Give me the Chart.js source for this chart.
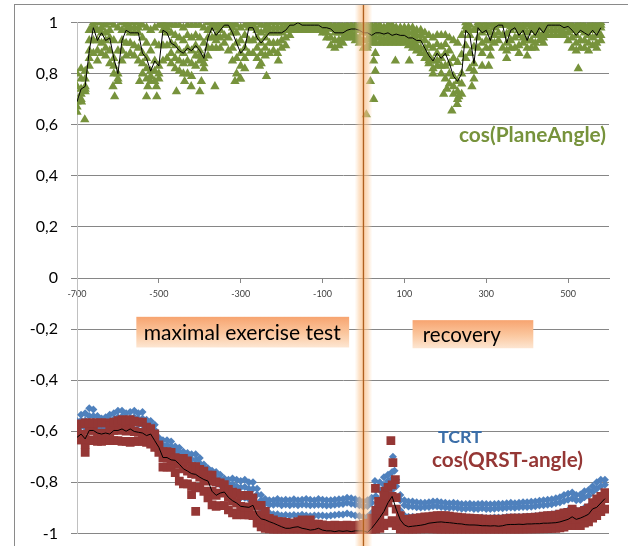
<!DOCTYPE html>
<html><head><meta charset="utf-8">
<script src="https://cdn.jsdelivr.net/npm/chart.js@4.4.1/dist/chart.umd.min.js"></script>
<style>html,body{margin:0;padding:0;background:#fff;overflow:hidden;}#wrap{width:628px;height:546px;overflow:hidden;}canvas{display:block;}</style>
</head><body>
<div id="wrap"><canvas id="c" width="628" height="556"></canvas></div>
<script>
// ---- sampling grid (x in seconds relative to end of exercise) ----
const xStart = -700, xStep = 10;
const xTicks = [-700, -500, -300, -100, 100, 300, 500];
const yTicks = [-1, -0.8, -0.6, -0.4, -0.2, 0, 0.2, 0.4, 0.6, 0.8, 1];

// ---- cos(PlaneAngle): x = -700 .. 580 ----
const planeHigh = [
 0.80,0.82,0.81,0.97,1.0,1.0,1.0,0.99,1.0,0.99,
 0.98,1.0,1.0,1.0,1.0,1.0,0.99,0.98,0.97,0.98,
 0.99,1.0,1.0,0.99,0.99,0.99,0.98,0.99,0.99,0.99,
 0.99,0.98,1.0,1.0,1.0,1.0,1.0,1.0,1.0,0.99,
 0.98,0.99,1.0,1.0,1.0,0.99,0.99,1.0,1.0,1.0,
 1.0,1.0,1.0,1.0,1.0,1.0,1.0,1.0,1.0,1.0,
 1.0,1.0,0.99,0.99,0.99,0.99,0.99,0.99,0.99,0.99,
 0.99,0.99,0.99,0.99,0.99,0.98,0.99,0.99,0.98,0.98,
 0.98,0.98,0.98,0.97,0.97,0.96,0.95,0.94,0.95,0.95,
 0.95,0.94,0.93,0.92,0.95,1.0,0.99,0.97,1.0,1.0,
 1.0,0.99,1.0,1.0,1.0,0.99,1.0,1.0,0.99,1.0,
 0.99,1.0,0.99,1.0,1.0,1.0,1.0,1.0,1.0,1.0,
 1.0,0.99,0.99,1.0,0.99,0.99,1.0,0.99,1.0];
const planeUpper = [
 0.75,0.78,0.78,0.93,0.99,0.97,0.98,0.96,0.97,0.93,
 0.89,0.97,0.99,0.98,0.98,0.98,0.94,0.92,0.89,0.92,
 0.91,0.99,0.98,0.96,0.95,0.94,0.93,0.95,0.94,0.95,
 0.94,0.92,0.97,0.99,0.98,0.99,1.0,0.99,0.98,0.96,
 0.93,0.95,0.99,0.99,0.97,0.96,0.97,0.98,0.98,0.98,
 0.98,0.985,0.995,0.995,1.0,0.995,0.995,0.995,0.995,0.995,
 0.99,0.99,0.985,0.975,0.975,0.975,0.98,0.985,0.985,0.98,
 0.975,0.975,0.97,0.975,0.975,0.97,0.975,0.97,0.97,0.965,
 0.965,0.96,0.96,0.95,0.95,0.93,0.91,0.90,0.915,0.905,
 0.915,0.89,0.86,0.845,0.875,0.985,0.97,0.905,0.99,0.98,
 0.985,0.96,0.99,0.995,0.995,0.955,0.985,0.99,0.97,0.985,
 0.96,0.985,0.97,0.99,0.98,0.995,0.995,0.995,0.995,0.99,
 0.99,0.98,0.97,0.985,0.975,0.97,0.985,0.97,0.99];
const planeMean = [
 0.69,0.74,0.75,0.89,0.98,0.93,0.96,0.93,0.94,0.86,
 0.80,0.93,0.97,0.96,0.96,0.96,0.88,0.86,0.81,0.85,
 0.83,0.97,0.96,0.92,0.91,0.89,0.88,0.90,0.89,0.91,
 0.89,0.86,0.94,0.98,0.95,0.97,0.99,0.99,0.96,0.92,
 0.88,0.90,0.98,0.98,0.94,0.92,0.94,0.96,0.96,0.96,
 0.96,0.97,0.99,0.99,1.0,0.99,0.99,0.99,0.99,0.99,
 0.98,0.98,0.975,0.96,0.96,0.96,0.97,0.975,0.975,0.97,
 0.96,0.96,0.95,0.96,0.96,0.955,0.96,0.95,0.955,0.95,
 0.95,0.94,0.94,0.93,0.93,0.90,0.87,0.85,0.88,0.86,
 0.88,0.84,0.79,0.77,0.80,0.97,0.95,0.84,0.98,0.96,
 0.97,0.93,0.98,0.99,0.99,0.92,0.97,0.98,0.95,0.97,
 0.93,0.97,0.95,0.98,0.96,0.99,0.99,0.99,0.99,0.98,
 0.985,0.97,0.95,0.97,0.96,0.95,0.97,0.95,0.98];
const planeMid = [
 0.67,0.72,0.74,0.86,0.93,0.89,0.92,0.90,0.89,0.83,
 0.78,0.89,0.92,0.92,0.91,0.90,0.84,0.82,0.79,0.81,
 0.80,0.91,0.91,0.88,0.86,0.85,0.84,0.85,0.84,0.87,
 0.87,0.84,0.90,0.94,0.93,0.94,0.95,0.94,0.90,0.86,
 0.83,0.86,0.93,0.93,0.90,0.88,0.90,0.92,0.92,0.92,
 0.93,0.94,0.97,0.98,0.98,0.98,0.98,0.98,0.98,0.98,
 0.97,0.96,0.94,0.93,0.93,0.94,0.95,0.96,0.95,0.94,
 0.93,0.935,0.935,0.94,0.94,0.935,0.94,0.935,0.935,0.935,
 0.935,0.925,0.92,0.91,0.90,0.88,0.85,0.82,0.85,0.83,
 0.83,0.80,0.75,0.73,0.76,0.91,0.88,0.81,0.94,0.92,
 0.93,0.90,0.95,0.96,0.95,0.89,0.93,0.94,0.91,0.94,
 0.90,0.93,0.92,0.95,0.94,0.97,0.97,0.97,0.97,0.96,
 0.96,0.94,0.92,0.93,0.93,0.92,0.94,0.92,0.95];
const planeLow = [
 0.65,0.70,0.73,0.83,0.88,0.85,0.88,0.87,0.84,0.80,
 0.77,0.85,0.87,0.88,0.87,0.85,0.80,0.78,0.77,0.77,
 0.78,0.85,0.86,0.84,0.82,0.81,0.80,0.80,0.79,0.83,
 0.85,0.82,0.87,0.90,0.90,0.90,0.92,0.89,0.85,0.80,
 0.78,0.82,0.88,0.88,0.86,0.84,0.87,0.88,0.89,0.88,
 0.90,0.91,0.95,0.97,0.97,0.97,0.97,0.97,0.97,0.97,
 0.96,0.94,0.91,0.90,0.91,0.92,0.94,0.94,0.93,0.92,
 0.90,0.91,0.92,0.92,0.92,0.92,0.92,0.92,0.92,0.92,
 0.92,0.91,0.90,0.89,0.88,0.86,0.84,0.80,0.83,0.80,
 0.78,0.76,0.72,0.70,0.72,0.86,0.82,0.78,0.90,0.88,
 0.90,0.87,0.92,0.93,0.90,0.86,0.90,0.90,0.88,0.92,
 0.87,0.90,0.90,0.93,0.92,0.95,0.95,0.95,0.95,0.95,
 0.93,0.90,0.89,0.90,0.90,0.89,0.91,0.90,0.93];
const planeOutX = [-689,-681,-612,-608,-547,-530,-527,-506,-505,-457,-437,-421,-400,-396,-363,-314,-302,-254,-237,-208,7,9,17,25,25,29,29,78,112,196,204,216,229,233,265,290,306,525];
const planeOutY = [0.69,0.62,0.75,0.71,0.77,0.71,0.75,0.75,0.71,0.73,0.77,0.75,0.73,0.77,0.75,0.77,0.78,0.83,0.79,0.85,0.64,0.90,0.77,0.85,0.70,0.88,0.81,0.85,0.85,0.72,0.74,0.655,0.68,0.71,0.75,0.83,0.83,0.82];

// ---- TCRT: x = -700 .. 590 ----
const tcrtHigh = [
 -0.56,-0.535,-0.53,-0.51,-0.515,-0.54,-0.55,-0.545,-0.535,-0.53,
 -0.52,-0.52,-0.53,-0.525,-0.52,-0.53,-0.525,-0.555,-0.56,-0.575,
 -0.625,-0.635,-0.635,-0.64,-0.66,-0.665,-0.68,-0.685,-0.69,-0.69,
 -0.705,-0.73,-0.745,-0.755,-0.76,-0.77,-0.785,-0.79,-0.785,-0.79,
 -0.795,-0.79,-0.80,-0.80,-0.825,-0.85,-0.865,-0.87,-0.87,-0.865,
 -0.87,-0.868,-0.87,-0.866,-0.87,-0.868,-0.865,-0.868,-0.87,-0.865,
 -0.868,-0.87,-0.87,-0.868,-0.866,-0.865,-0.86,-0.862,-0.866,-0.87,
 -0.875,-0.87,-0.86,-0.83,-0.80,-0.78,-0.77,-0.76,-0.79,-0.85,
 -0.87,-0.875,-0.875,-0.878,-0.88,-0.88,-0.878,-0.875,-0.875,-0.878,
 -0.88,-0.882,-0.88,-0.882,-0.885,-0.885,-0.884,-0.886,-0.885,-0.884,
 -0.885,-0.886,-0.885,-0.884,-0.884,-0.882,-0.88,-0.882,-0.88,-0.878,
 -0.878,-0.876,-0.875,-0.872,-0.87,-0.868,-0.866,-0.862,-0.858,-0.85,
 -0.845,-0.84,-0.85,-0.848,-0.835,-0.83,-0.815,-0.80,-0.79,-0.79];
const tcrtMid = [
 -0.575,-0.558,-0.558,-0.54,-0.54,-0.56,-0.57,-0.565,-0.558,-0.552,
 -0.545,-0.542,-0.552,-0.548,-0.545,-0.552,-0.55,-0.572,-0.578,-0.595,
 -0.638,-0.655,-0.655,-0.66,-0.675,-0.683,-0.698,-0.703,-0.71,-0.713,
 -0.725,-0.745,-0.76,-0.775,-0.783,-0.79,-0.803,-0.808,-0.808,-0.815,
 -0.82,-0.818,-0.825,-0.825,-0.848,-0.87,-0.883,-0.888,-0.888,-0.885,
 -0.89,-0.887,-0.89,-0.887,-0.89,-0.887,-0.888,-0.89,-0.889,-0.888,
 -0.889,-0.891,-0.89,-0.888,-0.886,-0.885,-0.88,-0.884,-0.887,-0.89,
 -0.895,-0.893,-0.88,-0.855,-0.83,-0.81,-0.795,-0.785,-0.815,-0.87,
 -0.89,-0.895,-0.895,-0.898,-0.899,-0.898,-0.897,-0.894,-0.894,-0.897,
 -0.899,-0.9,-0.899,-0.901,-0.903,-0.903,-0.902,-0.904,-0.904,-0.902,
 -0.904,-0.904,-0.903,-0.902,-0.902,-0.9,-0.899,-0.9,-0.898,-0.897,
 -0.897,-0.896,-0.894,-0.891,-0.89,-0.888,-0.886,-0.882,-0.879,-0.873,
 -0.868,-0.863,-0.87,-0.869,-0.858,-0.853,-0.838,-0.825,-0.815,-0.81];
const tcrtLow = [
 -0.59,-0.58,-0.585,-0.57,-0.565,-0.58,-0.59,-0.585,-0.58,-0.575,
 -0.57,-0.565,-0.575,-0.57,-0.57,-0.575,-0.575,-0.59,-0.595,-0.615,
 -0.65,-0.675,-0.675,-0.68,-0.69,-0.70,-0.715,-0.72,-0.73,-0.735,
 -0.745,-0.76,-0.775,-0.795,-0.805,-0.81,-0.82,-0.825,-0.83,-0.84,
 -0.86,-0.86,-0.865,-0.865,-0.885,-0.905,-0.915,-0.92,-0.925,-0.925,
 -0.93,-0.928,-0.93,-0.928,-0.93,-0.927,-0.93,-0.932,-0.93,-0.93,
 -0.93,-0.932,-0.93,-0.928,-0.926,-0.926,-0.922,-0.926,-0.93,-0.932,
 -0.935,-0.935,-0.92,-0.90,-0.88,-0.86,-0.84,-0.83,-0.86,-0.91,
 -0.93,-0.935,-0.935,-0.936,-0.936,-0.935,-0.934,-0.932,-0.932,-0.934,
 -0.936,-0.936,-0.937,-0.938,-0.938,-0.938,-0.938,-0.94,-0.94,-0.938,
 -0.94,-0.94,-0.938,-0.938,-0.938,-0.936,-0.936,-0.936,-0.935,-0.935,
 -0.934,-0.934,-0.932,-0.93,-0.93,-0.928,-0.925,-0.922,-0.92,-0.915,
 -0.91,-0.905,-0.91,-0.91,-0.90,-0.895,-0.88,-0.87,-0.86,-0.85];
const tcrtOutX = [28, 72, 76];
const tcrtOutY = [-0.795, -0.70, -0.755];

// ---- cos(QRST-angle): x = -700 .. 590 ----
const qrstHigh = [
 -0.587,-0.571,-0.567,-0.567,-0.567,-0.567,-0.567,-0.567,-0.578,-0.564,
 -0.558,-0.555,-0.56,-0.555,-0.56,-0.564,-0.564,-0.584,-0.59,-0.61,
 -0.653,-0.68,-0.68,-0.683,-0.703,-0.706,-0.706,-0.716,-0.739,-0.739,
 -0.749,-0.756,-0.772,-0.772,-0.798,-0.802,-0.809,-0.828,-0.838,-0.842,
 -0.851,-0.851,-0.851,-0.861,-0.89,-0.89,-0.914,-0.941,-0.947,-0.954,
 -0.954,-0.957,-0.96,-0.96,-0.954,-0.947,-0.957,-0.947,-0.964,-0.964,
 -0.967,-0.97,-0.97,-0.968,-0.97,-0.97,-0.968,-0.97,-0.97,-0.968,
 -0.965,-0.96,-0.94,-0.91,-0.88,-0.85,-0.82,-0.81,-0.86,-0.93,
 -0.945,-0.945,-0.942,-0.94,-0.938,-0.935,-0.935,-0.932,-0.93,-0.93,
 -0.93,-0.932,-0.935,-0.936,-0.938,-0.94,-0.94,-0.942,-0.942,-0.944,
 -0.944,-0.945,-0.944,-0.946,-0.944,-0.942,-0.94,-0.94,-0.94,-0.94,
 -0.938,-0.938,-0.936,-0.935,-0.932,-0.93,-0.93,-0.928,-0.925,-0.92,
 -0.918,-0.905,-0.915,-0.92,-0.91,-0.90,-0.88,-0.865,-0.855,-0.84];
const qrstMean = [
 -0.624,-0.611,-0.63,-0.597,-0.597,-0.607,-0.611,-0.607,-0.611,-0.597,
 -0.597,-0.591,-0.60,-0.591,-0.601,-0.604,-0.607,-0.617,-0.611,-0.637,
 -0.663,-0.703,-0.703,-0.712,-0.714,-0.729,-0.747,-0.756,-0.766,-0.769,
 -0.78,-0.789,-0.795,-0.835,-0.851,-0.842,-0.838,-0.859,-0.872,-0.881,
 -0.894,-0.896,-0.898,-0.89,-0.927,-0.943,-0.947,-0.954,-0.96,-0.967,
 -0.974,-0.98,-0.98,-0.976,-0.974,-0.98,-0.983,-0.987,-0.985,-0.98,
 -0.987,-0.99,-0.99,-0.993,-0.99,-0.992,-0.99,-0.993,-0.99,-0.99,
 -0.99,-0.996,-0.98,-0.96,-0.938,-0.914,-0.88,-0.855,-0.905,-0.947,
 -0.967,-0.974,-0.972,-0.97,-0.968,-0.965,-0.96,-0.958,-0.956,-0.955,
 -0.957,-0.958,-0.96,-0.962,-0.963,-0.966,-0.967,-0.967,-0.968,-0.97,
 -0.97,-0.971,-0.97,-0.972,-0.97,-0.966,-0.965,-0.965,-0.964,-0.965,
 -0.963,-0.963,-0.962,-0.962,-0.96,-0.96,-0.959,-0.958,-0.955,-0.95,
 -0.945,-0.935,-0.945,-0.94,-0.933,-0.925,-0.904,-0.898,-0.881,-0.864];
const qrstLow = [
 -0.634,-0.634,-0.65,-0.634,-0.637,-0.64,-0.64,-0.637,-0.637,-0.637,
 -0.637,-0.64,-0.64,-0.644,-0.64,-0.64,-0.64,-0.644,-0.65,-0.663,
 -0.683,-0.74,-0.74,-0.74,-0.762,-0.795,-0.806,-0.806,-0.815,-0.819,
 -0.822,-0.835,-0.861,-0.888,-0.894,-0.891,-0.891,-0.908,-0.92,-0.927,
 -0.924,-0.927,-0.927,-0.93,-0.96,-0.974,-0.98,-0.983,-0.987,-0.99,
 -0.99,-0.99,-0.992,-0.99,-0.99,-0.992,-0.99,-0.993,-0.99,-0.99,
 -0.992,-0.993,-0.99,-0.993,-0.995,-0.993,-0.995,-0.993,-0.995,-0.995,
 -0.997,-1.0,-0.995,-0.99,-0.98,-0.97,-0.96,-0.95,-0.97,-0.985,
 -0.985,-0.986,-0.985,-0.984,-0.983,-0.982,-0.982,-0.983,-0.984,-0.985,
 -0.985,-0.986,-0.986,-0.987,-0.987,-0.986,-0.987,-0.988,-0.988,-0.987,
 -0.988,-0.988,-0.989,-0.988,-0.987,-0.986,-0.986,-0.985,-0.985,-0.984,
 -0.984,-0.983,-0.983,-0.982,-0.982,-0.981,-0.98,-0.98,-0.978,-0.975,
 -0.97,-0.965,-0.97,-0.97,-0.96,-0.955,-0.94,-0.93,-0.915,-0.905];
const qrstOutX = [-680, -420, -410, 29, 37, 53, 67, 72, 78];
const qrstOutY = [-0.683, -0.848, -0.914, -0.824, -0.875, -0.835, -0.637, -0.723, -0.789];

// ---- annotation texts ----
const phaseLabels = ['maximal exercise test', 'recovery'];
const seriesNames = ['cos(PlaneAngle)', 'TCRT', 'cos(QRST-angle)'];

const GREEN = '#77933c', BLUE = '#4f81bd', RED = '#953735';

const onGrid = arr => arr.map((v, i) => ({x: xStart + i * xStep, y: v}));
const pairs = (xs, ys) => xs.map((x, i) => ({x, y: ys[i]}));

function pts(data, style, color, radius, order) {
  return {data, pointStyle: style, pointRadius: radius, pointBackgroundColor: color,
          pointBorderWidth: 0, borderWidth: 0, showLine: false, order};
}
function line(data, order) {
  return {data, showLine: true, pointRadius: 0, borderColor: '#000', borderWidth: 1,
          backgroundColor: 'transparent', order, tension: 0};
}

const fmt = v => { const r = Math.round(v * 10) / 10; return (r === 0 ? '0' : String(r)).replace('.', ','); };

function fitFont(ctx, text, width, weight) {
  ctx.font = weight + ' 20px Lato';
  const w = ctx.measureText(text).width;
  return weight + ' ' + (20 * width / w).toFixed(2) + 'px Lato';
}

const decor = {
  id: 'decor',
  beforeDraw(chart) {
    const ctx = chart.ctx;
    ctx.save();
    ctx.fillStyle = '#fff';
    ctx.fillRect(0, 0, chart.width, chart.height);
    ctx.strokeStyle = '#8a8a8a';
    ctx.lineWidth = 1;
    ctx.strokeRect(14.5, 4.5, 640, 600);
    ctx.restore();
  },
  afterDatasetsDraw(chart) {
    const ctx = chart.ctx, xs = chart.scales.x, ys = chart.scales.y;
    ctx.save();
    // phase boxes
    const boxes = [
      {x1: -555, x2: -35, y1: -0.152, y2: -0.272, text: phaseLabels[0], tx: -537, tw: 197},
      {x1: 120, x2: 415, y1: -0.165, y2: -0.275, text: phaseLabels[1], tx: 145, tw: 78}
    ];
    boxes.forEach(b => {
      const L = xs.getPixelForValue(b.x1), R = xs.getPixelForValue(b.x2);
      const T = ys.getPixelForValue(b.y1), B = ys.getPixelForValue(b.y2);
      const g = ctx.createLinearGradient(0, T, 0, B);
      g.addColorStop(0, '#f7a470');
      g.addColorStop(0.55, '#fbc8a0');
      g.addColorStop(1, '#fde6d2');
      ctx.fillStyle = g;
      ctx.fillRect(L, T, R - L, B - T);
      ctx.fillStyle = '#000';
      ctx.textBaseline = 'middle';
      ctx.textAlign = 'left';
      ctx.font = fitFont(ctx, b.text, b.tw, 'normal');
      ctx.fillText(b.text, xs.getPixelForValue(b.tx), (T + B) / 2 + 1);
    });
    // end-of-exercise marker band
    const x0 = xs.getPixelForValue(0);
    const g2 = ctx.createLinearGradient(x0 - 9, 0, x0 + 9, 0);
    g2.addColorStop(0, 'rgba(253,215,175,0)');
    g2.addColorStop(0.25, 'rgba(251,200,150,0.5)');
    g2.addColorStop(0.5, 'rgba(249,185,125,0.7)');
    g2.addColorStop(0.75, 'rgba(251,200,150,0.5)');
    g2.addColorStop(1, 'rgba(253,215,175,0)');
    ctx.fillStyle = g2;
    ctx.fillRect(x0 - 9, 5, 18, chart.height - 5);
    ctx.strokeStyle = '#b0601e';
    ctx.lineWidth = 1.3;
    ctx.beginPath();
    ctx.moveTo(x0, 5);
    ctx.lineTo(x0, chart.height);
    ctx.stroke();
    // series names
    const names = [
      {t: seriesNames[0], x: 459, w: 147, y: 135, c: GREEN},
      {t: seriesNames[1], x: 438, w: 44, y: 437, c: '#3b6ea8'},
      {t: seriesNames[2], x: 432, w: 151, y: 460, c: RED}
    ];
    names.forEach(n => {
      ctx.fillStyle = n.c;
      ctx.textAlign = 'left';
      ctx.textBaseline = 'middle';
      ctx.font = fitFont(ctx, n.t, n.w, 'bold');
      ctx.fillText(n.t, n.x, n.y);
    });
    ctx.restore();
  }
};

new Chart(document.getElementById('c'), {
  type: 'scatter',
  data: {
    datasets: [
      line(onGrid(planeMean), 0),
      line(onGrid(qrstMean), 0),
      pts(onGrid(qrstHigh), 'rect', RED, 6.2, 1),
      pts(onGrid(qrstMean), 'rect', RED, 6.2, 1),
      pts(onGrid(qrstLow), 'rect', RED, 6.2, 1),
      pts(pairs(qrstOutX, qrstOutY), 'rect', RED, 6.2, 1),
      pts(onGrid(tcrtHigh), 'rectRot', BLUE, 4, 2),
      pts(onGrid(tcrtMid), 'rectRot', BLUE, 4, 2),
      pts(onGrid(tcrtLow), 'rectRot', BLUE, 4, 2),
      pts(pairs(tcrtOutX, tcrtOutY), 'rectRot', BLUE, 4, 2),
      pts(onGrid(planeHigh), 'triangle', GREEN, 5.4, 3),
      pts(onGrid(planeUpper), 'triangle', GREEN, 5.4, 3),
      pts(onGrid(planeMean), 'triangle', GREEN, 5.4, 3),
      pts(onGrid(planeMid), 'triangle', GREEN, 5.4, 3),
      pts(onGrid(planeLow), 'triangle', GREEN, 5.4, 3),
      pts(pairs(planeOutX, planeOutY), 'triangle', GREEN, 5.4, 3)
    ]
  },
  options: {
    responsive: false, animation: false, events: [],
    layout: {padding: {left: 0, top: 22, right: 19, bottom: 15}},
    plugins: {legend: {display: false}, tooltip: {enabled: false}},
    scales: {
      x: {
        type: 'linear', position: {y: 0}, min: -700, max: 600,
        afterBuildTicks: s => { s.ticks = xTicks.map(v => ({value: v})); },
        grid: {drawOnChartArea: false, drawTicks: true, tickLength: 4, color: '#868686'},
        border: {display: true, color: '#868686', width: 1},
        ticks: {font: {family: 'Lato', size: 9}, color: '#404040', padding: 7,
                maxRotation: 0, autoSkip: false, callback: v => String(v)}
      },
      y: {
        type: 'linear', min: -1, max: 1,
        afterBuildTicks: s => { s.ticks = yTicks.map(v => ({value: v})); },
        afterFit: s => { s.width = 77; },
        grid: {color: '#868686', tickLength: 6, drawTicks: true},
        border: {display: true, color: '#c0c0c0'},
        ticks: {font: {family: 'Lato', size: 16}, color: '#000', padding: 13, callback: v => fmt(v)}
      }
    }
  },
  plugins: [decor]
});
</script>
</body></html>
